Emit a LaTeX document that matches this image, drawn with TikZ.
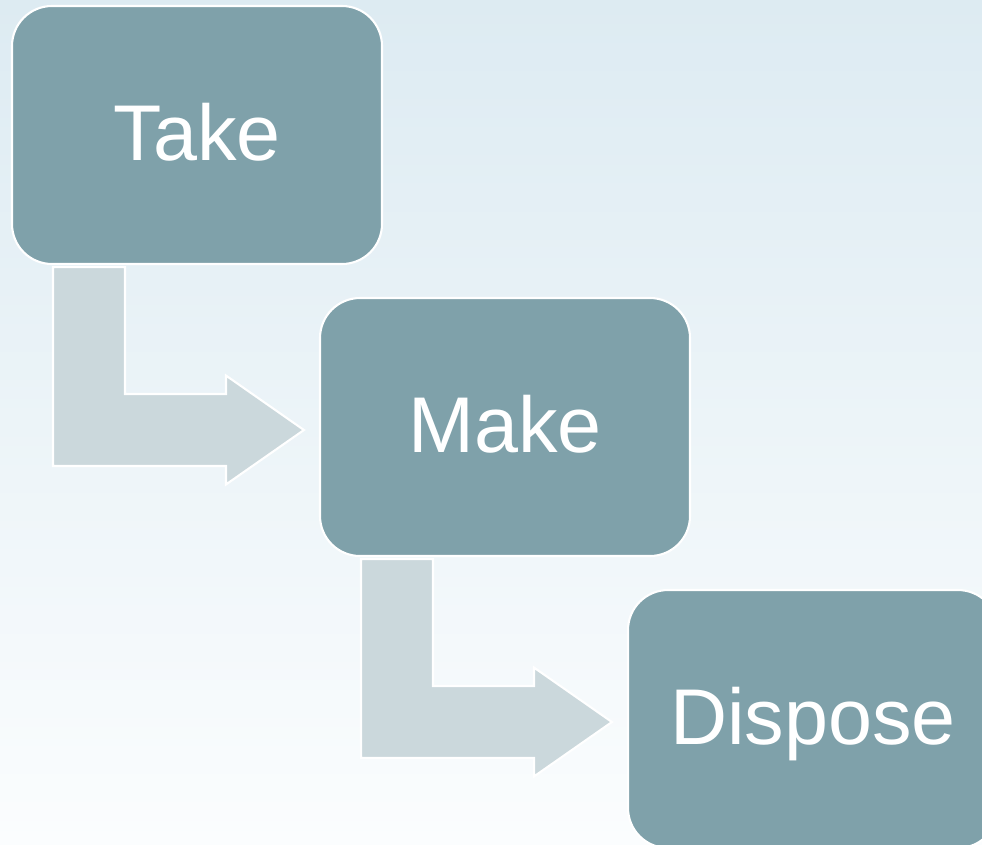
\documentclass[tikz,border=0pt]{standalone}
\usepackage{fontspec}
\setmainfont{Liberation Sans}
\usepackage{tikz}
\usetikzlibrary{calc, positioning}
\definecolor{mBox}{HTML}{7FA1AA}
\definecolor{mArrow}{HTML}{CBD8DC}
\definecolor{mBgTop}{HTML}{DDEBF2}
\definecolor{mBgBot}{HTML}{FBFDFE}

% bent arrow from the bottom of box #1 into the left side of box #2
\newcommand{\bentarrow}[2]{%
  \path ($(#1.south west)+(0.84,-0.04)$) coordinate (#1-a)
        ($(#2.west)+(-0.3,-0.06)$) coordinate (#1-tip);
  \fill[arr] (#1-a) -- ++(1.44,0) |- ($(#1-tip)+(-1.56,0.72)$) -- ++(0,0.37)
    -- (#1-tip) -- ++(-1.56,-1.09) -- ++(0,0.37) -| (#1-a) -- cycle;
}

\begin{document}
\begin{tikzpicture}[
      box/.style={draw=white, line width=1.2pt, fill=mBox, rounded corners=0.8cm,
        minimum width=7.4cm, minimum height=5.16cm, text=white,
        text height=1.1cm, text depth=0.1cm, font=\fontsize{45}{54}\selectfont},
      arr/.style={fill=mArrow, draw=white, line width=1.2pt}]
    \clip (0,0) rectangle (19.64,-16.88);
    \shade[top color=mBgTop, bottom color=mBgBot] (0,0) rectangle (19.64,-16.88);

    \node[box] (take)    at (3.94,-2.70)   {Take};
    \node[box] (make)    at (10.10,-8.54)  {Make};
    \node[box] (dispose) at (16.26,-14.38) {Dispose};

    \bentarrow{take}{make}
    \bentarrow{make}{dispose}
  \end{tikzpicture}
\end{document}
